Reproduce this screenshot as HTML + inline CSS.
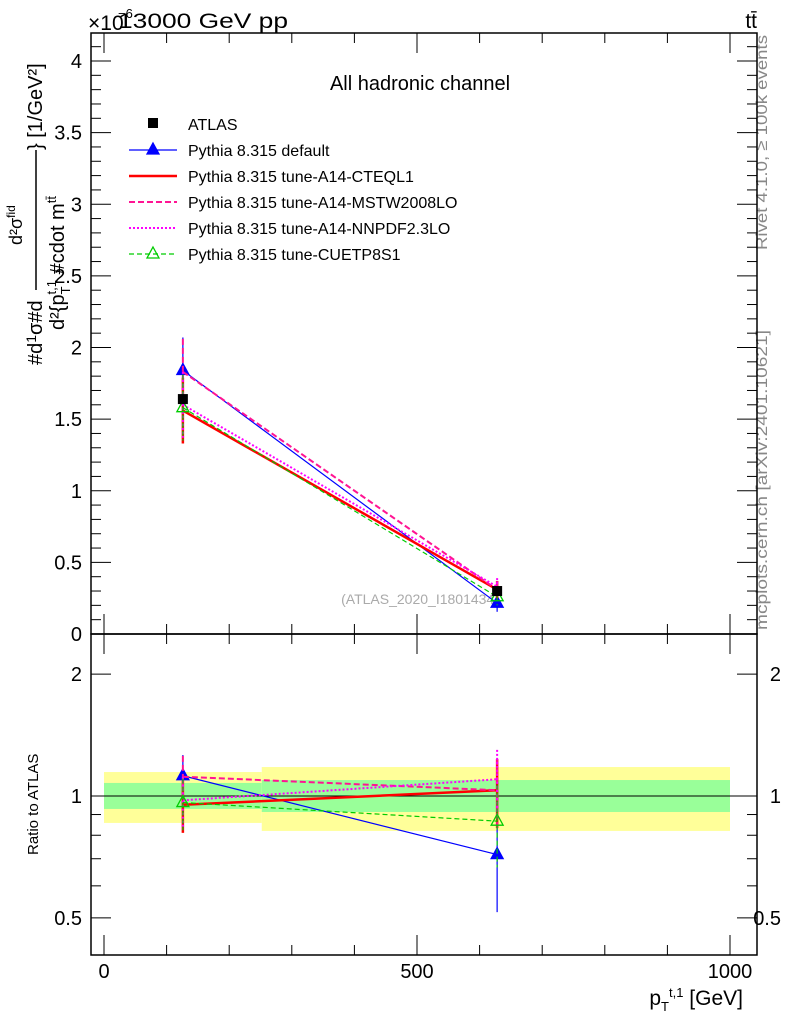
<!DOCTYPE html>
<html><head><meta charset="utf-8"><style>
body{margin:0;background:#fff}
svg{display:block;font-family:"Liberation Sans",sans-serif}
</style></head><body>
<svg id="c" width="786" height="1024" viewBox="0 0 786 1024">
<text x="118" y="28" font-size="21" textLength="170" lengthAdjust="spacingAndGlyphs">13000 GeV pp</text>
<text x="88" y="30" font-size="21">×10</text>
<text x="118" y="18" font-size="13">−6</text>
<text x="757" y="28" font-size="21" text-anchor="end">tt̄</text>
<text x="420" y="90" font-size="20" text-anchor="middle">All hadronic channel</text>
<text x="420" y="604" font-size="14" fill="#aaa" text-anchor="middle">(ATLAS_2020_I1801434)</text>
<text transform="translate(767,250) rotate(-90)" font-size="16" fill="#888" textLength="215" lengthAdjust="spacingAndGlyphs">Rivet 4.1.0, ≥ 100k events</text>
<text transform="translate(767,630) rotate(-90)" font-size="16" fill="#888" textLength="300" lengthAdjust="spacingAndGlyphs">mcplots.cern.ch [arXiv:2401.10621]</text>
<g>
<text transform="translate(42,365) rotate(-90)" font-size="20">#d<tspan font-size="14" dy="-6">1</tspan><tspan dy="6">σ</tspan>#d</text>
<line x1="36" x2="36" y1="290" y2="150" stroke="#000" stroke-width="1.5"/>
<text transform="translate(42,150) rotate(-90)" font-size="20">} [1/GeV²]</text>
<text transform="translate(22,245) rotate(-90)" font-size="18">d²σ<tspan font-size="12" dy="-7">fid</tspan></text>
<text transform="translate(64,330) rotate(-90)" font-size="20">d²{p<tspan font-size="13" dy="6">T</tspan><tspan font-size="13" dy="-14" dx="-8">t,1</tspan><tspan dy="8"> #cdot m</tspan><tspan font-size="13" dy="-8">tt̄</tspan></text>
</g>
<text transform="translate(38,855) rotate(-90)" font-size="15">Ratio to ATLAS</text>
<text x="743" y="1005" font-size="21" text-anchor="end">p<tspan font-size="13" dy="6">T</tspan><tspan font-size="13" dy="-14">t,1</tspan><tspan dy="8"> [GeV]</tspan></text>
<g id="g"></g>
</svg>
<script>
const xEdges=[0,252,1000];
const xCenters=[126,628];
const atlas=[1.64,0.30];
const atlasRelUp=[1.146,1.179], atlasRelDn=[0.858,0.82];
const atlasStatUp=[1.077,1.095], atlasStatDn=[0.929,0.913];
const seriesNames=["Pythia 8.315 default","Pythia 8.315 tune-A14-CTEQL1","Pythia 8.315 tune-A14-MSTW2008LO","Pythia 8.315 tune-A14-NNPDF2.3LO","Pythia 8.315 tune-CUETP8S1"];
const sDefault=[1.84,0.215];
const sCteq=[1.56,0.31];
const sMstw=[1.83,0.31];
const sNnpdf=[1.60,0.33];
const sCuet=[1.58,0.26];
const sErr=[0.23,0.06];
const yTicks=[0.5,1,1.5,2,2.5,3,3.5,4];
const rTicks=[0.5,1,2];
const xTicks=[0,500,1000];
const NS="http://www.w3.org/2000/svg";
const g=document.getElementById('g');
const X=v=>104+v*0.626;
const Y=v=>634-v*143.25;
const R=r=>796-405*Math.log10(r);
function el(t,a,name){const e=document.createElementNS(NS,t);for(const k in a)e.setAttribute(k,a[k]);g.appendChild(e);


return e;}
for(let i=0;i<2;i++){
 el('rect',{x:X(xEdges[i]),y:R(atlasRelUp[i]),width:X(xEdges[i+1])-X(xEdges[i]),height:R(atlasRelDn[i])-R(atlasRelUp[i]),fill:'#ffff99'},'band-syst-'+i);
 el('rect',{x:X(xEdges[i]),y:R(atlasStatUp[i]),width:X(xEdges[i+1])-X(xEdges[i]),height:R(atlasStatDn[i])-R(atlasStatUp[i]),fill:'#99ff99'},'band-stat-'+i);
}
el('line',{x1:91,x2:757,y1:R(1),y2:R(1),stroke:'#000','stroke-width':1},'ratio-unity-line');
el('rect',{x:91,y:33,width:666,height:601,fill:'none',stroke:'#000','stroke-width':1.5},'main-frame');
el('rect',{x:91,y:634,width:666,height:321,fill:'none',stroke:'#000','stroke-width':1.5},'ratio-frame');
for(let v=0.1;v<4.2;v+=0.1){const big=Math.abs(v*2-Math.round(v*2))<1e-6;const y=Y(v);
 el('line',{x1:91,x2:91+(big?20:10),y1:y,y2:y,stroke:'#000'},'y-tick');el('line',{x1:757,x2:757-(big?20:10),y1:y,y2:y,stroke:'#000'},'y-tick-right');}
yTicks.forEach(v=>{const t=el('text',{x:82,y:Y(v)+7,'font-size':20,'text-anchor':'end'},'y-tick-label');t.textContent=String(v);});
el('text',{x:82,y:641,'font-size':20,'text-anchor':'end'},'y-tick-label').textContent='0';
[0.5,0.6,0.7,0.8,0.9,1,2].forEach(r=>{const big=(r==0.5||r==1||r==2);const y=R(r);
 el('line',{x1:91,x2:91+(big?20:10),y1:y,y2:y,stroke:'#000'},'ratio-tick');el('line',{x1:757,x2:757-(big?20:10),y1:y,y2:y,stroke:'#000'},'ratio-tick-right');});
rTicks.forEach(r=>{el('text',{x:82,y:R(r)+7,'font-size':20,'text-anchor':'end'},'ratio-tick-label').textContent=String(r);
 el('text',{x:781,y:R(r)+7,'font-size':20,'text-anchor':'end'},'ratio-tick-label-right').textContent=String(r);});
for(let v=0;v<=1000;v+=100){const big=v%500==0;const x=X(v);
 [[33,1],[634,-1],[634,1],[955,-1]].forEach(([y0,d])=>el('line',{x1:x,x2:x,y1:y0,y2:y0+d*(big?20:10),stroke:'#000'},'x-tick'));}
xTicks.forEach(v=>el('text',{x:X(v),y:978,'font-size':20,'text-anchor':'middle'},'x-tick-label').textContent=String(v));
const S=[[sDefault,'#0000ff','',1.2,'tri'],[sCteq,'#ff0000','',2.5,''],[sMstw,'#ff1493','6,3',2,''],[sNnpdf,'#ff00ff','2,2',2,''],[sCuet,'#00cc00','5,3',1.2,'otri']];
function tri(x,y,col,open,name){el('path',{d:`M${x},${y-7}L${x+6},${y+4}L${x-6},${y+4}Z`,fill:open?'none':col,stroke:col,'stroke-width':1.3},name);}
S.forEach(([d,col,dash,w,mk],k)=>{
 const pts=xCenters.map((c,i)=>X(c)+','+Y(d[i])).join(' ');
 el('polyline',{points:pts,fill:'none',stroke:col,'stroke-width':w,'stroke-dasharray':dash},'series-line-'+k);
 const rp=xCenters.map((c,i)=>X(c)+','+R(d[i]/atlas[i])).join(' ');
 el('polyline',{points:rp,fill:'none',stroke:col,'stroke-width':w,'stroke-dasharray':dash},'ratio-line-'+k);
 xCenters.forEach((c,i)=>{const x=X(c);
  el('line',{x1:x,x2:x,y1:Y(d[i]+sErr[i]),y2:Y(d[i]-sErr[i]),stroke:col,'stroke-width':w,'stroke-dasharray':dash},'error-bar');
  el('line',{x1:x,x2:x,y1:R((d[i]+sErr[i])/atlas[i]),y2:R((d[i]-sErr[i])/atlas[i]),stroke:col,'stroke-width':w,'stroke-dasharray':dash},'ratio-error-bar');
  if(mk){tri(x,Y(d[i]),col,mk=='otri','marker');tri(x,R(d[i]/atlas[i]),col,mk=='otri','ratio-marker');}
 });
});
xCenters.forEach((c,i)=>el('rect',{x:X(c)-5,y:Y(atlas[i])-5,width:10,height:10,fill:'#000'},'atlas-point'));
el('rect',{x:148,y:118,width:10,height:10,fill:'#000'},'legend-atlas-marker');
el('text',{x:188,y:130,'font-size':16},'legend-atlas').textContent='ATLAS';
S.forEach(([d,col,dash,w,mk],k)=>{const y=150+k*26;
 el('line',{x1:129,x2:177,y1:y,y2:y,stroke:col,'stroke-width':w,'stroke-dasharray':dash},'legend-line-'+k);
 if(mk)tri(153,y,col,mk=='otri','legend-marker');
 el('text',{x:188,y:y+6,'font-size':16},'legend-entry-'+k).textContent=seriesNames[k];});
</script>
</body></html>
